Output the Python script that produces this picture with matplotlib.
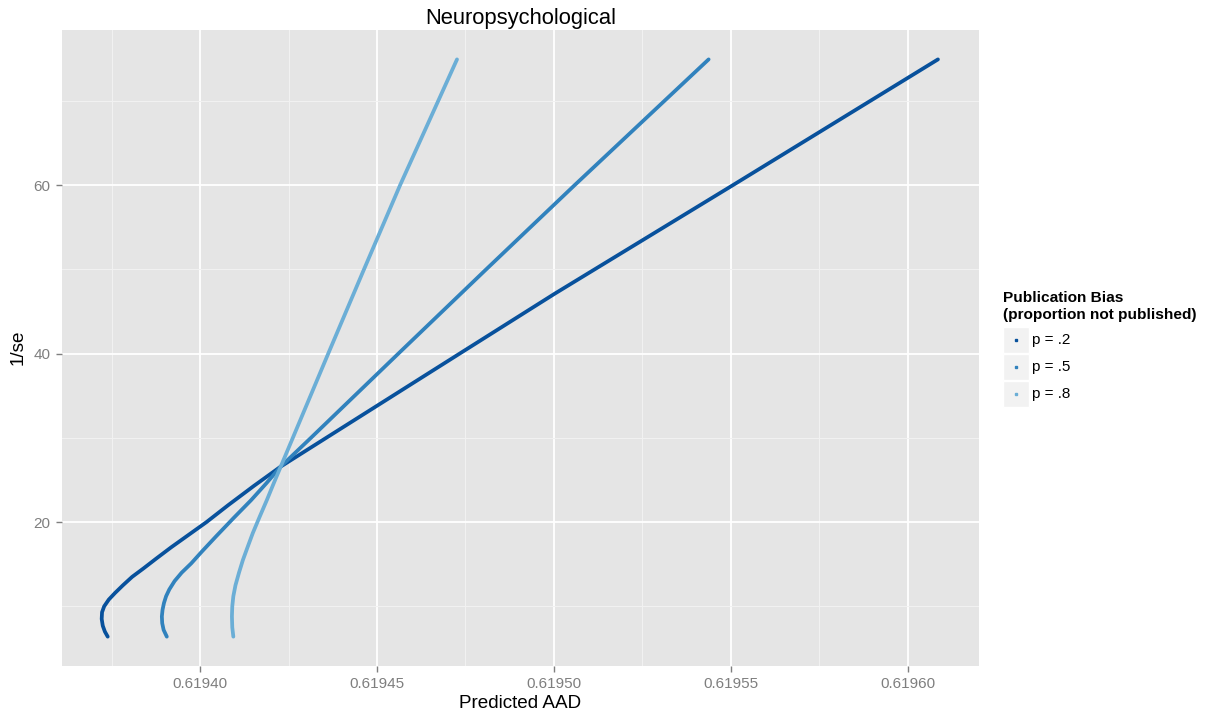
import matplotlib
matplotlib.use("Agg")
import matplotlib.pyplot as plt
from matplotlib.patches import Rectangle
from matplotlib.ticker import MultipleLocator, FormatStrFormatter

plt.rcParams['font.family'] = ['Liberation Sans', 'DejaVu Sans']

# values (1/se on y, predicted AAD on x)
labels = ['p = .2', 'p = .5', 'p = .8']
colors = ['#08519C', '#3182BD', '#6BAED6']

y_p2 = [6.4, 7.0, 7.7, 8.5, 9.3, 10.0, 10.8, 11.6, 12.5, 13.5, 14.5, 15.7, 17.0, 18.5, 20.0,
        22.0, 24.3, 26.6, 40.0, 47.15, 60.0, 74.95]
x_p2 = [0.6193739, 0.6193731, 0.6193725, 0.6193722, 0.6193723, 0.6193729, 0.6193742, 0.6193760,
        0.6193782, 0.6193808, 0.6193840, 0.6193877, 0.6193918, 0.6193968, 0.6194018,
        0.6194079, 0.6194152, 0.6194228, 0.6194733, 0.6195003, 0.6195505, 0.6196085]

y_p5 = [6.4, 7.2, 8.0, 8.8, 9.6, 10.4, 11.2, 12.0, 13.0, 14.0, 15.1, 16.5, 18.3, 20.5, 22.6,
        24.6, 26.6, 30.0, 40.0, 50.0, 60.0, 74.95]
x_p5 = [0.6193906, 0.6193897, 0.6193893, 0.6193892, 0.6193894, 0.6193898, 0.6193904, 0.6193913,
        0.6193928, 0.6193948, 0.6193975, 0.6194005, 0.6194045, 0.6194095, 0.6194144,
        0.6194187, 0.6194228, 0.6194313, 0.6194560, 0.6194808, 0.6195058, 0.6195437]

y_p8 = [6.4, 7.5, 8.8, 10.0, 11.2, 12.5, 14.0, 15.5, 17.0, 18.7, 20.6, 22.65, 24.6, 26.6,
        30.0, 40.0, 50.0, 60.0, 74.95]
x_p8 = [0.6194094, 0.6194091, 0.6194090, 0.6194091, 0.6194094, 0.6194100, 0.6194110, 0.6194121,
        0.6194134, 0.6194149, 0.6194168, 0.6194189, 0.6194208, 0.6194228,
        0.6194262, 0.6194362, 0.6194463, 0.6194565, 0.6194726]

series = [(x_p2, y_p2), (x_p5, y_p5), (x_p8, y_p8)]

W, H = 1207, 721
fig = plt.figure(figsize=(W / 100, H / 100), dpi=100)
ax = fig.add_axes([61.7 / W, 1 - 665.7 / H, (979 - 61.7) / W, (665.7 - 29.5) / H])
ax.set_facecolor('#E5E5E5')
for s in ax.spines.values():
    s.set_visible(False)

ax.xaxis.set_major_locator(MultipleLocator(0.00005))
ax.xaxis.set_minor_locator(MultipleLocator(0.000025))
ax.yaxis.set_major_locator(MultipleLocator(20))
ax.yaxis.set_minor_locator(MultipleLocator(10))
ax.xaxis.set_major_formatter(FormatStrFormatter('%.5f'))
ax.grid(which='major', color='white', linewidth=1.3)
ax.grid(which='minor', color='#F2F2F2', linewidth=0.7)
ax.set_axisbelow(True)
ax.tick_params(which='major', length=4, width=1, color='#7F7F7F', labelcolor='#7F7F7F',
               labelsize=11, pad=4)
ax.tick_params(which='minor', length=0)

for (xs, ys), c in zip(series, colors):
    ax.plot(xs, ys, color=c, linewidth=2.7, solid_capstyle='round', solid_joinstyle='round')

ax.set_xlim(0.6193609, 0.6196201)
ax.set_ylim(2.95, 78.5)

ax.set_xlabel('Predicted AAD', fontsize=13.6, labelpad=3)
ax.set_ylabel('1/se', fontsize=13.6, labelpad=5)
ax.set_title('Neuropsychological', fontsize=15.8, pad=3)

# legend in ggplot style
fig.text(1003 / W, 1 - 298 / H, 'Publication Bias', fontsize=11.1, fontweight='bold',
         va='center', ha='left')
fig.text(1003 / W, 1 - 315 / H, '(proportion not published)', fontsize=11.1, fontweight='bold',
         va='center', ha='left')
for i, (lab, c) in enumerate(zip(labels, colors)):
    top = 327 + i * 27
    fig.add_artist(Rectangle((1003 / W, 1 - (top + 26) / H), 25.5 / W, 26 / H,
                             transform=fig.transFigure, facecolor='#F2F2F2', edgecolor='white'))
    fig.add_artist(plt.Line2D([1015.7 / W], [1 - (top + 13) / H], marker='s', markersize=1.8,
                              color=c, transform=fig.transFigure))
    fig.text(1032 / W, 1 - (top + 13) / H, lab, fontsize=11, va='center', ha='left')

fig.savefig('out.png', dpi=100)
